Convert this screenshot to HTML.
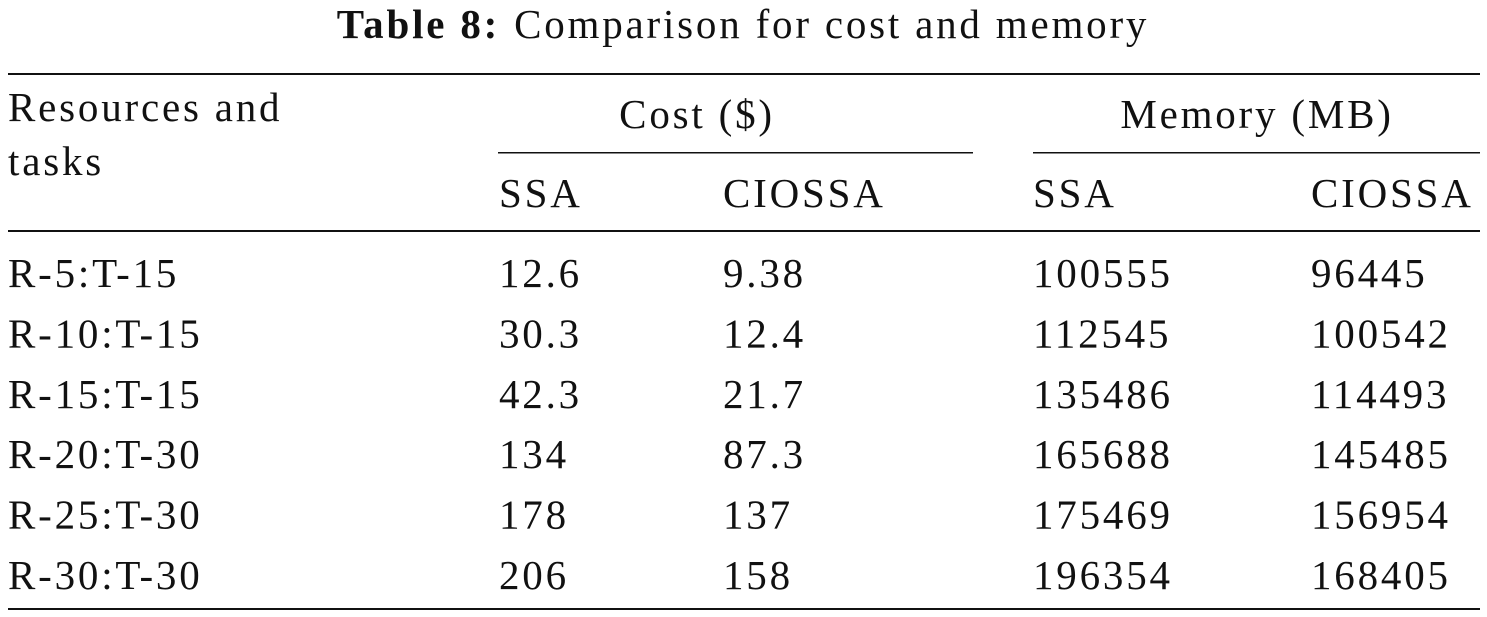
<!DOCTYPE html>
<html><head><meta charset="utf-8"><style>
html,body{margin:0;padding:0;background:#fff;}
svg{display:block;}
text{font-family:"Liberation Serif",serif;font-size:41px;fill:#111;letter-spacing:2.8px;}
</style></head><body>
<svg width="1487" height="617" viewBox="0 0 1487 617">
<text x="743" y="38" text-anchor="middle"><tspan font-weight="bold">Table 8:</tspan><tspan dx="14">Comparison for cost and memory</tspan></text>
<rect x="8" y="73" width="1472" height="2" fill="#111"/>
<text x="8" y="121">Resources and</text>
<text x="8" y="175">tasks</text>
<text x="697" y="128" text-anchor="middle">Cost ($)</text>
<text x="1257" y="128" text-anchor="middle">Memory (MB)</text>
<rect x="498" y="152" width="475" height="1.5" fill="#111"/>
<rect x="1033" y="152" width="447" height="1.5" fill="#111"/>
<text x="499" y="207">SSA</text>
<text x="723" y="207">CIOSSA</text>
<text x="1033" y="207">SSA</text>
<text x="1311" y="207">CIOSSA</text>
<rect x="8" y="230" width="1472" height="2" fill="#111"/>
<g id="rows"></g>
<rect x="8" y="608" width="1472" height="2" fill="#111"/>
</svg>
<script>
const labels=["R-5:T-15","R-10:T-15","R-15:T-15","R-20:T-30","R-25:T-30","R-30:T-30"];
const costSSA=["12.6","30.3","42.3","134","178","206"];
const costCIOSSA=["9.38","12.4","21.7","87.3","137","158"];
const memSSA=["100555","112545","135486","165688","175469","196354"];
const memCIOSSA=["96445","100542","114493","145485","156954","168405"];
const g=document.getElementById('rows');
const cols=[[8,labels,'row-label'],[499,costSSA,'cost-ssa'],[723,costCIOSSA,'cost-ciossa'],[1033,memSSA,'mem-ssa'],[1311,memCIOSSA,'mem-ciossa']];
labels.forEach((l,i)=>{
  const y=287+i*60.4;
  cols.forEach(c=>{
    const t=document.createElementNS('http://www.w3.org/2000/svg','text');
    t.setAttribute('x',c[0]);t.setAttribute('y',y);
    t.textContent=c[1][i];
    
    
    g.appendChild(t);
  });
});
</script>
</body></html>
